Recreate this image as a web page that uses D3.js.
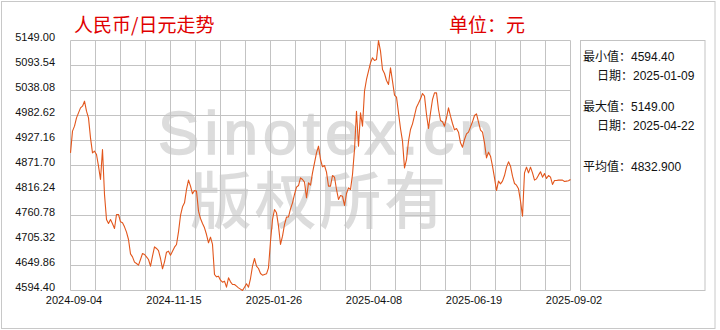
<!DOCTYPE html>
<html>
<head>
<meta charset="utf-8">
<script src="https://cdn.jsdelivr.net/npm/d3@7"></script>
<style>
  html, body { margin: 0; padding: 0; background: #fff; }
  svg { display: block; }
</style>
</head>
<body>
<svg id="chart" width="720" height="330"></svg>
<script>
const values = [
  4899.8, 4947.9, 4959.0, 4977.4, 4988.5, 4999.6, 5003.3, 5014.4, 4992.2, 4977.4,
  4933.1, 4899.8, 4903.5, 4896.1, 4870.2, 4840.6, 4907.2, 4807.4, 4751.9, 4743.0,
  4751.9, 4742.3, 4731.9, 4763.0, 4763.0, 4746.7, 4744.5, 4735.6, 4723.8, 4707.5,
  4675.7, 4669.1, 4657.3, 4654.3, 4650.6, 4663.2, 4676.5, 4674.3, 4669.1, 4663.2,
  4648.4, 4670.6, 4691.3, 4687.6, 4683.1, 4665.4, 4642.5, 4658.0, 4679.4, 4681.7,
  4672.8, 4681.7, 4690.5, 4696.5, 4724.6, 4760.8, 4780.0, 4788.9, 4818.5, 4839.2,
  4825.9, 4808.9, 4816.2,
  4814.8, 4770.4, 4754.1, 4743.0, 4733.4, 4718.6, 4700.2, 4712.7, 4696.5, 4629.9,
  4624.7, 4626.2, 4617.3, 4612.9, 4615.1, 4601.8, 4622.5, 4613.6, 4607.7, 4607.7,
  4604.0, 4600.3, 4597.4, 4594.4, 4601.8, 4609.2, 4601.8, 4621.0, 4648.4, 4665.4,
  4648.4, 4643.2, 4632.1, 4628.4, 4629.9, 4631.4, 4644.7, 4703.8, 4751.9, 4774.1,
  4766.7, 4737.1, 4696.5, 4714.9, 4740.8, 4757.1, 4757.8, 4775.6, 4788.9, 4807.4,
  4823.6, 4827.3, 4844.3, 4840.6, 4834.7, 4800.0, 4833.3, 4828.1, 4855.4, 4877.6,
  4899.8, 4914.6, 4885.0,
  4868.8, 4871.7, 4856.9, 4825.9, 4825.9, 4849.5, 4845.8, 4818.5, 4796.3, 4805.2,
  4803.7, 4783.0, 4809.6, 4822.2, 4818.5, 4851.7, 4907.2, 4992.2, 4914.6, 4988.5,
  4959.0, 5036.6, 5062.5, 5081.0, 5099.5, 5110.6, 5104.6, 5106.9, 5149.0, 5125.3,
  5084.7, 5075.8, 5060.3, 5051.4, 5088.4, 5058.8, 5027.7, 5023.3, 4988.5, 4953.8,
  4925.7, 4866.5, 4885.0, 4925.7, 4951.6, 4964.1, 4982.6, 5001.1, 5010.0, 5019.6,
  5031.4, 5025.5, 4984.8, 4953.8, 4988.5, 5018.1, 5032.9, 5032.9, 4995.9, 4971.5,
  4968.6, 4959.0,
  4977.4, 4999.6, 4981.1, 4964.9, 4950.8, 4953.8, 4945.7, 4922.0, 4912.4, 4929.4,
  4942.0, 4945.7, 4957.5, 4968.6, 4982.6, 4986.3, 4967.8, 4950.1, 4945.7, 4922.0,
  4888.7, 4901.3, 4892.4, 4870.2, 4844.3, 4816.2, 4837.0, 4831.0, 4837.0, 4849.5,
  4868.0, 4879.8, 4870.2, 4848.0, 4831.8, 4828.1, 4819.9, 4792.6, 4759.3, 4855.4,
  4868.0, 4855.4, 4868.0, 4855.4, 4839.2, 4842.1, 4850.3, 4857.7, 4845.8, 4854.0,
  4842.9, 4849.5, 4845.8, 4829.6, 4838.4, 4838.4, 4839.2, 4839.2, 4839.2, 4836.2,
  4837.0, 4837.7, 4840.6
];
const xTickIndex = [0, 50, 100, 150, 200, 250];
const xTickLabels = ["2024-09-04", "2024-11-15", "2025-01-26", "2025-04-08", "2025-06-19", "2025-09-02"];
const yTickLabels = ["5149.00", "5093.54", "5038.08", "4982.62", "4927.16", "4871.70",
                     "4816.24", "4760.78", "4705.32", "4649.86", "4594.40"];
const titleText = "人民币/日元走势";
const unitText = "单位：元";
const statLabels = ["最小值：4594.40", "日期：2025-01-09", "最大值：5149.00", "日期：2025-04-22", "平均值：4832.900"];
const watermarkTexts = ["Sinotex.cn", "版权所有"];

const svg = d3.select("#chart");
const W = 720, H = 330;
const plot = { left: 70.5, right: 570.5, top: 40.5, bottom: 290.5 };

const x = d3.scaleLinear().domain([0, values.length - 1]).range([plot.left, plot.right]);
const yMin = +yTickLabels[yTickLabels.length - 1], yMax = +yTickLabels[0];
const y = d3.scaleLinear().domain([yMin, yMax]).range([plot.bottom, plot.top]);

const txtFont = "'Liberation Sans', 'Noto Sans CJK SC', sans-serif";
const gridColor = "#c3c3c3";

svg.append("rect").attr("x", 0).attr("y", 0).attr("width", W).attr("height", H).attr("fill", "#fff");
// outer frame
svg.append("rect").attr("x", 1.5).attr("y", 1.5).attr("width", 713.5).attr("height", 327)
  .attr("fill", "none").attr("stroke", "#c8c8c8").attr("stroke-width", 1);

// watermark
svg.append("text").attr("x", 158).attr("y", 154)
  .attr("textLength", 336).attr("lengthAdjust", "spacing")
  .style("font-family", "'Liberation Sans', Arial, sans-serif")
  .style("font-size", "62px").attr("fill", "#dcdcdc")
  .attr("stroke", "#dcdcdc").attr("stroke-width", 1.6)
  .text(watermarkTexts[0]);
svg.append("text").attr("x", 190).attr("y", 224)
  .attr("textLength", 256).attr("lengthAdjust", "spacing")
  .style("font-family", "'Noto Sans CJK SC', sans-serif").style("font-weight", "500")
  .style("font-size", "62px").attr("fill", "#dcdcdc").text(watermarkTexts[1]);

// grid
const g = svg.append("g");
const vIdx = d3.range(0, 21).map(k => k * (values.length - 1) / 20);
g.selectAll("line.v").data(vIdx).join("line")
  .attr("x1", d => Math.round(x(d) - 0.5) + 0.5).attr("x2", d => Math.round(x(d) - 0.5) + 0.5)
  .attr("y1", plot.top).attr("y2", plot.bottom)
  .attr("stroke", gridColor).attr("stroke-width", 1);
g.selectAll("line.h").data(yTickLabels).join("line")
  .attr("x1", plot.left).attr("x2", plot.right)
  .attr("y1", d => Math.round(y(+d) - 0.5) + 0.5).attr("y2", d => Math.round(y(+d) - 0.5) + 0.5)
  .attr("stroke", gridColor).attr("stroke-width", 1);

// y labels
svg.selectAll("text.yl").data(yTickLabels).join("text")
  .attr("x", 55).attr("y", d => y(+d) + 0.5)
  .attr("text-anchor", "end")
  .style("font-family", txtFont).style("font-size", "11px").attr("fill", "#111")
  .text(d => d);

// x labels
svg.selectAll("text.xl").data(xTickIndex).join("text")
  .attr("x", d => x(d) + 3.5).attr("y", 304)
  .attr("text-anchor", "middle")
  .style("font-family", txtFont).style("font-size", "11px").attr("fill", "#111")
  .text((d, i) => xTickLabels[i]);

// line
const line = d3.line().x((d, i) => x(i)).y(d => y(d));
svg.append("path").datum(values).attr("d", line)
  .attr("fill", "none").attr("stroke", "#e2561c").attr("stroke-width", 1.1)
  .attr("stroke-linejoin", "round");

// titles
svg.append("text").attr("x", 74).attr("y", 31.5)
  .style("font-family", "'Noto Sans CJK SC', sans-serif").style("font-size", "19px")
  .attr("fill", "#e00000").text(titleText);
svg.append("text").attr("x", 449).attr("y", 31.5)
  .style("font-family", "'Noto Sans CJK SC', sans-serif").style("font-size", "19px")
  .attr("fill", "#e00000").text(unitText);

// stats panel
svg.append("rect").attr("x", 580.5).attr("y", plot.top).attr("width", 124.5).attr("height", plot.bottom - plot.top)
  .attr("fill", "none").attr("stroke", gridColor).attr("stroke-width", 1);
const statPos = [[583, 60.5], [597, 80], [583, 110.5], [597, 130], [583, 170.5]];
svg.selectAll("text.st").data(statLabels).join("text")
  .attr("x", (d, i) => statPos[i][0]).attr("y", (d, i) => statPos[i][1])
  .style("font-family", txtFont).style("font-size", "12px").attr("fill", "#111")
  .text(d => d);
</script>
</body>
</html>
